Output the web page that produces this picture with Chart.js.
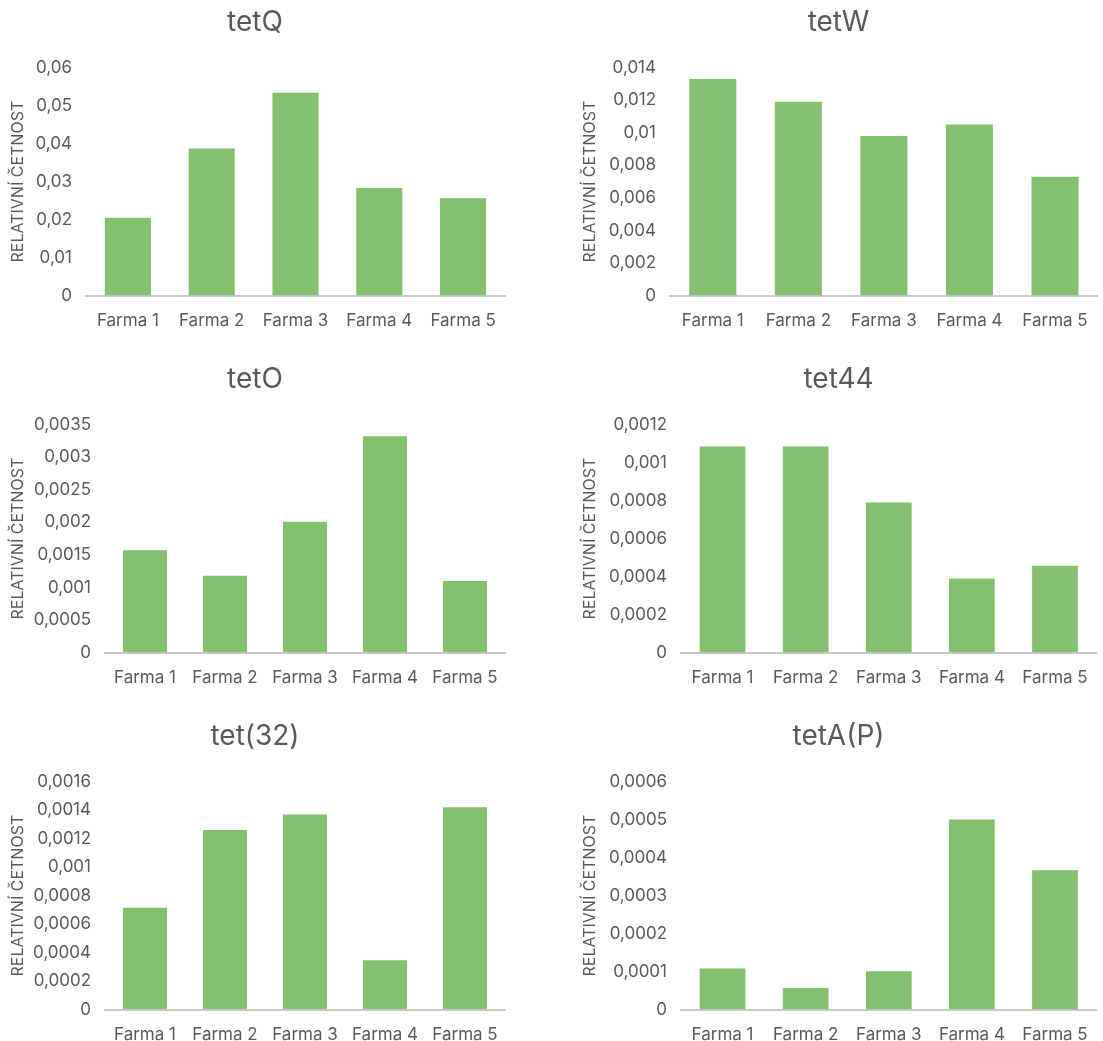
<!DOCTYPE html>
<html>
<head>
<meta charset="utf-8">
<script src="https://cdn.jsdelivr.net/npm/chart.js@4"></script>
<style>
  html, body { margin: 0; padding: 0; background: #fff; overflow: hidden; }
  #wrap { position: relative; width: 1103px; height: 1041px; overflow: hidden; }
  .panel { position: absolute; }
</style>
</head>
<body>
<div id="wrap"></div>
<script>
// Data
const farms = ['Farma 1', 'Farma 2', 'Farma 3', 'Farma 4', 'Farma 5'];
const titles = ['tetQ', 'tetW', 'tetO', 'tet44', 'tet(32)', 'tetA(P)'];
const tetQ = [0.0205, 0.0387, 0.0534, 0.0283, 0.0256];
const tetW = [0.0133, 0.0119, 0.0098, 0.0105, 0.0073];
const tetO = [0.00157, 0.00118, 0.00201, 0.00332, 0.0011];
const tet44 = [0.001085, 0.001085, 0.00079, 0.00039, 0.000457];
const tet32 = [0.000715, 0.00126, 0.00137, 0.000347, 0.00142];
const tetAP = [0.000108, 0.000057, 0.000101, 0.0005, 0.000367];
const series = [tetQ, tetW, tetO, tet44, tet32, tetAP];
const yMax = [0.06, 0.014, 0.0035, 0.0012, 0.0016, 0.0006];
const yStep = [0.01, 0.002, 0.0005, 0.0002, 0.0002, 0.0001];
const yTitle = 'RELATIVNÍ ČETNOST';

// Panel placement
const panels = [
  { left: 0,   top: 0,   w: 550, axisW: 81,  padL: 5, padR: 45 },
  { left: 570, top: 0,   w: 533, axisW: 93,  padL: 7, padR: 3 },
  { left: 0,   top: 357, w: 550, axisW: 100, padL: 5, padR: 45 },
  { left: 570, top: 357, w: 533, axisW: 104, padL: 7, padR: 3 },
  { left: 0,   top: 714, w: 550, axisW: 100, padL: 5, padR: 45 },
  { left: 570, top: 714, w: 533, axisW: 104, padL: 7, padR: 3 }
];

const textColor = '#595959';
const barColor = '#83C16F';
const font = 'Inter, "Open Sans", sans-serif';

function fmt(v) {
  return String(Number(v.toPrecision(10))).replace('.', ',');
}

const wrap = document.getElementById('wrap');

panels.forEach((p, i) => {
  const div = document.createElement('div');
  div.className = 'panel';
  div.style.left = p.left + 'px';
  div.style.top = p.top + 'px';
  div.style.width = p.w + 'px';
  div.style.height = '346px';
  const canvas = document.createElement('canvas');
  div.appendChild(canvas);
  wrap.appendChild(div);

  new Chart(canvas, {
    type: 'bar',
    data: {
      labels: farms,
      datasets: [{
        label: titles[i],
        data: series[i],
        backgroundColor: barColor,
        barPercentage: 0.55,
        categoryPercentage: 1
      }]
    },
    options: {
      responsive: true,
      maintainAspectRatio: false,
      animation: false,
      layout: { padding: { left: p.padL, right: p.padR, top: 0, bottom: 0 } },
      plugins: {
        legend: { display: false },
        tooltip: { enabled: false },
        title: {
          display: true,
          text: titles[i],
          color: textColor,
          font: { family: font, size: 28, weight: 'normal' },
          padding: { top: 6, bottom: 28 }
        }
      },
      scales: {
        x: {
          grid: { display: false, drawTicks: false },
          border: { display: true, color: '#C8C8C8', width: 2 },
          ticks: { color: textColor, font: { family: font, size: 17 }, padding: 15 }
        },
        y: {
          min: 0,
          max: yMax[i],
          grid: { display: false, drawTicks: false },
          border: { display: false },
          ticks: {
            stepSize: yStep[i],
            color: textColor,
            font: { family: font, size: 17 },
            padding: 14,
            callback: v => fmt(v)
          },
          title: {
            display: true,
            text: yTitle,
            color: textColor,
            font: { family: font, size: 16 }
          },
          afterFit: s => { s.width = p.axisW; }
        }
      }
    }
  });
});
</script>
</body>
</html>
